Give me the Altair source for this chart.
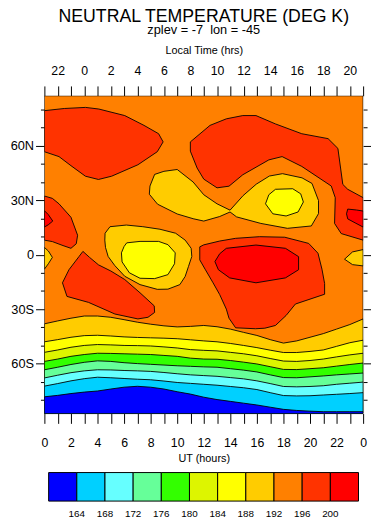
import altair as alt
import pandas as pd

# ---------------- values ----------------
# latitude of each southern contour line at UT = 0, 1, ..., 24 h
ut_hours = [0, 1, 2, 3, 4, 5, 6, 7, 8, 9, 10, 11, 12, 13, 14, 15, 16, 17, 18, 19, 20, 21, 22, 23, 24]
line_192 = [-38.1, -36.5, -35.0, -33.8, -33.8, -34.5, -35.8, -37.2, -38.3, -39.2, -39.8, -39.5, -39.0,
            -39.7, -41.0, -42.8, -44.5, -46.8, -48.7, -47.5, -45.5, -43.5, -41.0, -38.5, -35.4]
line_188 = [-48.0, -46.8, -45.5, -44.6, -44.4, -44.8, -45.3, -45.6, -45.8, -46.0, -46.3, -46.9, -47.5,
            -48.0, -48.9, -50.0, -51.2, -52.6, -53.9, -53.9, -53.3, -52.5, -50.5, -48.5, -47.1]
line_184 = [-53.8, -52.5, -51.0, -50.0, -49.5, -49.7, -50.0, -50.1, -50.3, -50.8, -51.4, -52.3, -52.7,
            -53.0, -53.8, -54.6, -55.7, -57.2, -58.6, -58.8, -58.3, -57.5, -56.3, -55.2, -54.3]
line_180 = [-58.8, -57.5, -56.0, -55.0, -54.3, -54.4, -54.6, -54.8, -55.0, -55.5, -56.0, -57.0, -57.5,
            -57.6, -58.3, -59.2, -60.2, -61.7, -63.2, -63.3, -62.8, -62.3, -61.4, -60.5, -59.7]
line_176 = [-63.4, -62.0, -60.5, -59.3, -58.5, -58.8, -59.5, -60.0, -60.4, -60.8, -61.2, -61.5, -61.8,
            -62.0, -62.8, -63.6, -64.6, -66.2, -67.7, -67.8, -67.3, -66.8, -66.2, -65.7, -65.2]
line_172 = [-67.9, -66.4, -65.0, -64.0, -63.4, -63.5, -63.8, -64.0, -64.3, -64.9, -65.6, -66.2, -66.6,
            -67.0, -67.7, -68.4, -69.5, -71.0, -72.6, -72.8, -72.6, -72.2, -71.4, -70.8, -70.2]
line_168 = [-72.4, -71.0, -69.5, -68.3, -67.5, -67.8, -68.2, -68.6, -68.9, -69.6, -70.4, -70.9, -71.4,
            -71.9, -72.6, -73.3, -74.3, -76.0, -77.6, -77.8, -77.7, -77.3, -76.9, -76.5, -76.0]
line_164 = [-78.3, -77.5, -76.5, -75.7, -75.1, -74.0, -73.0, -72.5, -73.0, -74.0, -75.5, -76.8, -78.5,
            -79.8, -80.8, -81.8, -82.8, -84.0, -85.2, -85.8, -86.2, -86.5, -86.5, -86.5, -86.5]

# closed contour regions, (UT hour, latitude) outline points
gold_cd = [(7.9, 33.3), (7.95, 37.8), (8.3, 44.2), (9.0, 45.9), (10.0, 46.9), (11.2, 40.0), (12.0, 33.0),
           (13.0, 28.0), (13.98, 24.5), (14.96, 32.5), (15.95, 38.8), (16.94, 43.3), (17.93, 44.6),
           (19.4, 42.3), (20.15, 39.2), (20.64, 29.8), (20.64, 22.6), (20.1, 15.8), (18.3, 14.5),
           (16.3, 17.2), (14.47, 20.8), (13.98, 23.5), (13.2, 21.0), (12.0, 18.5), (11.2, 19.8),
           (10.0, 22.4), (8.52, 27.8)]
gold_h = [(4.57, 11.8), (4.94, 15.4), (6.17, 16.3), (7.41, 15.4), (8.7, 14.0), (9.88, 11.8), (10.6, 8.0),
          (11.05, 3.5), (11.1, -1.0), (10.85, -6.5), (10.6, -12.0), (10.2, -16.5), (9.3, -19.0),
          (8.5, -19.1), (7.2, -16.5), (6.05, -11.9), (5.3, -6.0), (4.8, -1.0), (4.6, 4.0), (4.55, 8.0)]
gold_left = [(0.0, 4.0), (0.3, 2.0), (0.6, -1.5), (0.3, -5.0), (0.0, -8.0)]
gold_right = [(24.0, 2.8), (23.2, 1.5), (22.6, -2.5), (23.2, -5.5), (24.0, -6.2)]
yellow_e = [(17.4, 36.0), (18.7, 36.3), (19.3, 33.5), (19.5, 29.0), (19.1, 23.5), (18.2, 21.3),
            (17.2, 22.5), (16.65, 28.0), (16.9, 33.0)]
yellow_i = [(6.2, 6.5), (7.2, 7.3), (8.6, 7.3), (9.3, 5.5), (9.85, 1.0), (9.8, -5.0), (9.3, -11.0),
            (8.3, -13.2), (7.2, -13.0), (6.4, -10.0), (5.85, -4.0), (5.8, 1.0), (6.0, 4.5)]
warm_a = [(0.0, 79.3), (1.5, 80.5), (3.1, 81.1), (4.1, 80.2), (6.05, 76.6), (7.5, 71.2), (8.6, 66.6),
          (8.94, 62.1), (8.5, 56.7), (7.04, 49.5), (5.06, 43.2), (4.07, 41.4), (3.09, 43.2), (2.0, 49.0),
          (1.1, 54.0), (0.0, 56.7)]
warm_b = [(10.99, 62.1), (12.47, 71.2), (13.7, 74.8), (14.94, 76.6), (15.93, 76.6), (17.4, 72.0),
          (19.38, 66.6), (21.36, 63.9), (22.1, 58.5), (22.47, 38.7), (22.84, 36.0), (24.0, 31.4),
          (24.0, 8.0), (22.35, 11.6), (21.85, 17.2), (21.9, 31.4), (21.6, 37.8), (19.38, 48.6),
          (17.9, 54.0), (16.9, 52.2), (14.94, 44.0), (13.9, 37.7), (13.0, 36.8), (12.0, 41.6),
          (11.5, 47.7), (10.99, 57.0)]
warm_f = [(0.0, 32.3), (0.6, 31.0), (1.1, 28.0), (2.0, 20.6), (2.5, 10.7), (2.4, 6.0), (2.0, 3.5),
          (1.4, 5.0), (0.6, 7.2), (0.0, 8.0)]
warm_g = [(2.9, 1.8), (3.4, -1.5), (4.07, -5.6), (5.0, -9.0), (6.05, -13.7), (7.2, -21.0), (8.27, -28.2),
          (8.3, -31.8), (7.8, -34.5), (7.04, -35.4), (5.31, -32.7), (3.33, -26.3), (1.7, -23.0),
          (1.36, -15.5), (1.85, -8.3), (2.6, -1.1)]
warm_j = [(11.7, 4.3), (12.0, 5.4), (13.2, 7.5), (14.4, 9.0), (16.2, 9.9), (18.1, 9.6), (19.9, 6.2),
          (20.6, 0.8), (20.9, -8.0), (21.1, -15.9), (21.1, -21.8), (20.0, -24.5), (18.9, -27.2),
          (18.2, -33.5), (17.4, -39.0), (16.6, -40.5), (15.9, -40.8), (14.4, -40.3), (13.9, -35.0),
          (13.7, -30.0), (13.2, -22.0), (12.7, -15.5), (12.1, -8.0), (11.7, -2.9)]
hot_k = [(12.84, -3.8), (13.2, 0.5), (13.7, 3.5), (15.93, 5.3), (18.15, 3.5), (19.14, -1.1),
         (19.14, -8.3), (18.15, -12.8), (15.93, -15.5), (13.95, -12.8), (13.1, -8.3)]
hot_left = [(0.0, 24.2), (0.3, 22.0), (0.63, 18.5), (0.3, 16.5), (0.0, 15.2)]
hot_right = [(22.84, 25.1), (23.5, 24.6), (24.0, 24.0), (24.0, 15.2), (23.4, 17.5), (22.84, 19.7),
             (22.75, 22.5)]

# temperature assigned to the open (background) area and each region kind
background_temp = 194
levels = [164, 168, 172, 176, 180, 184, 188, 192, 196, 200]
colors = ["#0000ff", "#00d0ff", "#66ffff", "#66ff99", "#33ff00", "#ddf500",
          "#ffff00", "#ffcc00", "#ff8000", "#ff3300", "#ff0000"]

# ---------------- table of outlines (drawn in this order) ----------------
lat_min, lat_max = -87.5, 87.5
ut_min, ut_max = ut_hours[0], ut_hours[-1]
regions = [(background_temp, [(ut_min, lat_min), (ut_max, lat_min), (ut_max, lat_max), (ut_min, lat_max)])]
bands = [(190, line_192), (186, line_188), (182, line_184), (178, line_180),
         (174, line_176), (170, line_172), (166, line_168), (162, line_164)]
for temp, line in bands:
    pts = list(zip(ut_hours, line)) + [(ut_max, lat_min), (ut_min, lat_min)]
    regions.append((temp, pts))
regions += [(190, gold_cd), (190, gold_h), (190, gold_left), (190, gold_right),
            (186, yellow_e), (186, yellow_i),
            (198, warm_a), (198, warm_b), (198, warm_f), (198, warm_g), (198, warm_j),
            (202, hot_k), (202, hot_left), (202, hot_right)]

records = []
for k, (temp, pts) in enumerate(regions):
    closed = pts + [pts[0]]
    for i, (u, la) in enumerate(closed):
        records.append({"rid": "r%02d" % k, "idx": i, "ut": u, "lat": la, "temp": temp})
df = pd.DataFrame(records)

FONT = "Liberation Sans"
xscale = alt.Scale(domain=[ut_min, ut_max], nice=False, zero=False)
yscale = alt.Scale(domain=[lat_min, lat_max], nice=False, zero=False)
cscale = alt.Scale(type="threshold", domain=levels, range=colors)

lat_ticks = [-80, -70, -60, -50, -40, -30, -20, -10, 0, 10, 20, 30, 40, 50, 60, 70, 80]
tick_size = {"condition": {"test": "datum.value % 30 === 0", "value": 9}, "value": 4}

bottom_axis = alt.Axis(orient="bottom", values=ut_hours,
                       labelExpr="datum.value % 2 === 0 ? '' + (datum.value % 24) : ''",
                       tickSize=10, tickColor="black", domain=False, grid=False,
                       labelFontSize=12.5, labelFont=FONT, labelColor="black",
                       labelPadding=14, labelFlush=False, labelOverlap=False,
                       title="UT (hours)", titleFont=FONT, titleFontSize=11,
                       titleFontWeight="normal", titleColor="black", titlePadding=3.5)
top_axis = alt.Axis(orient="top", values=ut_hours,
                    labelExpr="datum.value % 2 === 1 ? '' + ((datum.value + 21) % 24) : ''",
                    tickSize=10, tickColor="black", domain=False, grid=False,
                    labelFontSize=12.5, labelFont=FONT, labelColor="black",
                    labelPadding=9, labelFlush=False, labelOverlap=False,
                    title="Local Time (hrs)", titleFont=FONT, titleFontSize=11,
                    titleFontWeight="normal", titleColor="black", titlePadding=8.5)
left_axis = alt.Axis(orient="left", values=lat_ticks,
                     labelExpr="datum.value === 0 ? '0' : (datum.value % 30 === 0 ? abs(datum.value) + (datum.value > 0 ? 'N' : 'S') : '')",
                     tickSize=tick_size, tickColor="black", domain=False, grid=False,
                     labelFontSize=13, labelFont=FONT, labelColor="black",
                     labelPadding=2, labelFlush=False, labelOverlap=False, title=None)
right_axis = alt.Axis(orient="right", values=lat_ticks, labels=False,
                      tickSize=tick_size, tickColor="black", domain=False, grid=False,
                      title=None)

legend = alt.Legend(type="gradient", orient="none", legendX=4.3, legendY=383,
                    direction="horizontal", gradientLength=315, gradientThickness=29,
                    gradientStrokeColor="black", gradientStrokeWidth=1,
                    labelFontSize=10, labelFont=FONT, labelColor="black", labelOffset=8,
                    title=None)

fills = alt.Chart(df).mark_line(stroke="black", strokeWidth=0.9, interpolate="linear",
                                clip=True).encode(
    x=alt.X("ut:Q", scale=xscale, axis=bottom_axis),
    y=alt.Y("lat:Q", scale=yscale, axis=left_axis),
    detail="rid:N",
    order=alt.Order("idx:Q"),
    fill=alt.Fill("temp:Q", scale=cscale, legend=legend),
)

frame_df = pd.DataFrame({"ut": [ut_min, ut_max], "lat": [lat_min, lat_max]})
frame = alt.Chart(frame_df).mark_point(opacity=0).encode(
    x=alt.X("ut:Q", scale=xscale, axis=top_axis),
    y=alt.Y("lat:Q", scale=yscale, axis=right_axis),
)

chart = alt.layer(fills, frame).resolve_axis(x="independent", y="independent").properties(
    width=324, height=323,
    autosize=alt.AutoSizeParams(type="none"),
    padding={"left": 37, "top": 85, "right": 8, "bottom": 104},
    title=alt.Title(text="NEUTRAL TEMPERATURE (DEG K)", subtitle="zplev = -7\u00a0 lon = -45",
                    font=FONT, fontSize=18, fontWeight="normal", color="black",
                    subtitleFont=FONT, subtitleFontSize=13, subtitleColor="black",
                    anchor="middle", frame="group", offset=8.4, subtitlePadding=-2.2),
).configure_view(stroke="black", strokeWidth=1.2).configure(background="white")

chart.save("out.html", embed_options={"renderer": "svg", "actions": False})
